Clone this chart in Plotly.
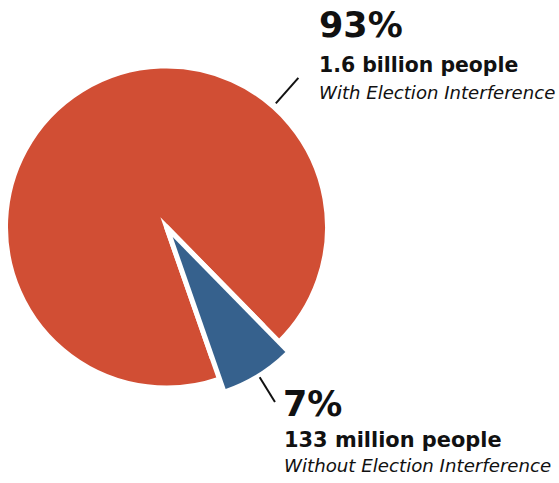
import math
import plotly.graph_objects as go

# Share of people living in countries with / without election interference
labels = ["With Election Interference", "Without Election Interference"]
values = [93, 7]
pct_text = ["93%", "7%"]
people_text = ["1.6 billion people", "133 million people"]
colors = ["#D14E34", "#36618D"]

W, H = 559, 483
CX, CY = 166.5, 227.0      # pie centre in px
R = 161.0                  # pie radius in px
ROTATION = 160.8           # start angle of first slice (clockwise from 12 o'clock)
PULL_PX = 11.8             # how far the small slice is pulled out
GAP = 5.0                  # white gap between the slices

total = sum(values)
mid_small = ROTATION + 360.0 * (values[0] + values[1] / 2) / total
half_small = math.radians(180.0 * values[1] / total)
ms = math.radians(mid_small)
ux, uy = math.sin(ms), -math.cos(ms)
bx, by = CX + PULL_PX * ux, CY + PULL_PX * uy
# apex of the white wedge that separates the big slice from the small one
back = (GAP / 2) / math.sin(half_small)
mx, my = CX - back * ux, CY - back * uy


def domain(cx, cy, r):
    return dict(x=[(cx - r) / W, (cx + r) / W],
                y=[1 - (cy + r) / H, 1 - (cy - r) / H])


fig = go.Figure()

# large slice (white outline trims its edges)
fig.add_trace(go.Pie(
    labels=labels, values=values, sort=False, direction="clockwise",
    rotation=ROTATION, textinfo="none", hoverinfo="label+percent",
    marker=dict(colors=[colors[0], "rgba(0,0,0,0)"],
                line=dict(color="white", width=[GAP, 0])),
    domain=domain(CX, CY, R), showlegend=False,
))
# white wedge giving the gap a sharp corner near the centre
fig.add_trace(go.Pie(
    labels=labels, values=values, sort=False, direction="clockwise",
    rotation=ROTATION, textinfo="none", hoverinfo="skip",
    marker=dict(colors=["rgba(0,0,0,0)", "white"],
                line=dict(color="white", width=0)),
    domain=domain(mx, my, 150), showlegend=False,
))
# small slice, offset along its mid angle
fig.add_trace(go.Pie(
    labels=labels, values=values, sort=False, direction="clockwise",
    rotation=ROTATION, textinfo="none", hoverinfo="label+percent",
    marker=dict(colors=["rgba(0,0,0,0)", colors[1]],
                line=dict(color="white", width=[0, 0])),
    domain=domain(bx, by, R), showlegend=False,
))


def px(x, y):
    return x / W, 1 - y / H


# leader lines, radial from each slice's centre
def radial(cx, cy, ang, r0, r1):
    a = math.radians(ang)
    x0, y0 = px(cx + r0 * math.sin(a), cy - r0 * math.cos(a))
    x1, y1 = px(cx + r1 * math.sin(a), cy - r1 * math.cos(a))
    fig.add_shape(type="line", xref="paper", yref="paper",
                  x0=x0, y0=y0, x1=x1, y1=y1,
                  line=dict(color="#111111", width=2))


radial(CX, CY, 41.5, 165, 199)
radial(bx, by, mid_small, 165, 194)

FONT = "DejaVu Sans"


def label(text, x, baseline, size, bold=True, italic=False):
    xp, yp = px(x, baseline - 0.346 * size)
    fig.add_annotation(
        text=text, x=xp, y=yp, xref="paper", yref="paper",
        xanchor="left", yanchor="middle", showarrow=False, borderpad=0,
        font=dict(family=FONT, size=size, color="#111111",
                  weight="bold" if bold else "normal",
                  style="italic" if italic else "normal"),
    )


# upper label block
label(pct_text[0], 318, 36.7, 35)
label(people_text[0], 318, 72.3, 20.4)
label(labels[0], 318, 98.3, 18.1, bold=False, italic=True)
# lower label block
label(pct_text[1], 282, 415.7, 35)
label(people_text[1], 283, 447.3, 20.9)
label(labels[1], 283, 471.7, 18.2, bold=False, italic=True)

fig.update_layout(
    width=W, height=H, margin=dict(l=0, r=0, t=0, b=0),
    paper_bgcolor="white", plot_bgcolor="white",
    showlegend=False,
)

fig.write_html("out.html")
